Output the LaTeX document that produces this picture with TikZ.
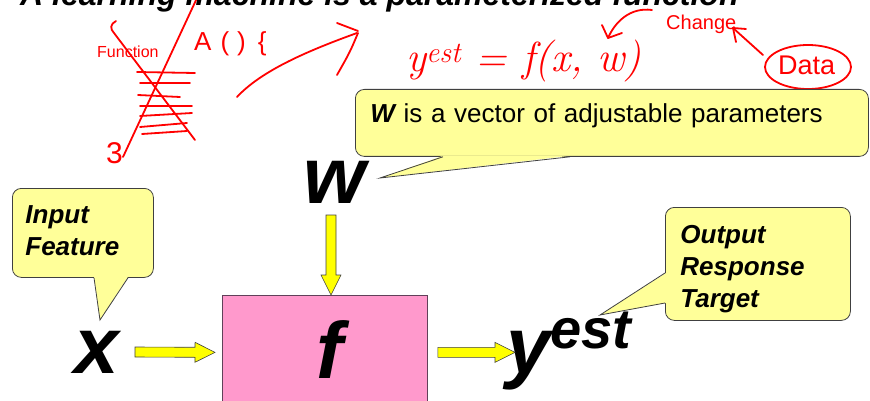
\documentclass[tikz,border=0pt]{standalone}
\usepackage{fontspec}
\newfontfamily\slidefont{Liberation Sans}
\usetikzlibrary{calc}
\definecolor{notefill}{rgb}{1,1,.6}
\definecolor{noteedge}{rgb}{.25,.25,.25}
\definecolor{blockpink}{rgb}{1,.6,.8}
\definecolor{blockedge}{rgb}{.38,.25,.35}
\definecolor{arrowyellow}{rgb}{1,1,0}
\definecolor{ink}{rgb}{1,0,0}

\begin{document}
\begin{tikzpicture}[x=1pt,y=-1pt,
    big/.style={inner sep=0pt,font=\slidefont\bfseries\itshape\fontsize{80}{80}\selectfont},
    note/.style={draw=noteedge,fill=notefill,line width=.8pt,rounded corners=9pt,anchor=north west,align=left,inner xsep=13pt},
    notetext/.style={font=\slidefont\bfseries\itshape\fontsize{26}{32}\selectfont},
    hand/.style={text=ink,inner sep=0pt,anchor=base west},
    inkline/.style={draw=ink,line width=1.8pt,line cap=round,line join=round},
    fatarrow/.style={draw=black!75,fill=arrowyellow,line width=.6pt,
      to path={($(\tikztostart)!5pt!90:(\tikztotarget)$)
        -- ($(\tikztotarget)!20pt!(\tikztostart)!5pt!-90:(\tikztostart)$)
        -- ($(\tikztotarget)!20pt!(\tikztostart)!10pt!-90:(\tikztostart)$)
        -- (\tikztotarget)
        -- ($(\tikztotarget)!20pt!(\tikztostart)!10pt!90:(\tikztostart)$)
        -- ($(\tikztotarget)!20pt!(\tikztostart)!5pt!90:(\tikztostart)$)
        -- ($(\tikztostart)!5pt!-90:(\tikztotarget)$) -- cycle}}]
\useasboundingbox (0,0) rectangle (870,401);
\clip (0,0) rectangle (870,401);

\node[inner sep=0pt,anchor=base west,font=\slidefont\bfseries\itshape\fontsize{32}{36}\selectfont] (title) at (20,6) {A learning machine is a parameterized function};

% handwriting
\draw[inkline] (197,-2) -- (123,157);
\draw[inkline] (116,21) .. controls (110,24) and (110,29) .. (114,33) -- (195,140);
\foreach \xa/\ya/\xb/\yb in {137/72/195/73,140/83/190/83,138/95/180/97,140/106/192/106,140/116/192/113,140/127/187/123,142/134/187/131}
  \draw[inkline] (\xa,\ya) -- (\xb,\yb);
\node[hand,font=\slidefont\fontsize{16}{16}\selectfont] (fnword) at (97,58) {Function};
\node[hand,font=\slidefont\fontsize{26}{26}\selectfont] (code) at (194,51) {A\hspace{9pt}(\hspace{8pt})\hspace{12pt}\{};
\node[hand,font=\slidefont\fontsize{30}{30}\selectfont] (close) at (106,164) {3};
\draw[inkline] (237,97) .. controls (262,70) and (310,50) .. (357,33);
\draw[inkline] (337,23) -- (358,31);
\draw[inkline] (358,33) .. controls (350,52) .. (337,75);
\node[hand,font=\itshape\fontsize{42}{42}\selectfont] (eqn) at (406,72) {y\textsuperscript{est} = f(x, w)};
\node[hand,font=\slidefont\fontsize{20}{20}\selectfont] (change) at (666,30) {Change};
\draw[inkline] (652,10) .. controls (630,7) and (615,22) .. (608,38);
\draw[inkline] (602,25) -- (608,38) -- (622,33);
\draw[inkline] (808,67) ellipse [x radius=43,y radius=22];
\node[hand,font=\slidefont\fontsize{27}{27}\selectfont] (data) at (778,75) {Data};
\draw[inkline] (763,55) -- (733,28);
\draw[inkline] (746,29) -- (733,28) -- (736,42);

% machine
\node[draw=blockedge,fill=blockpink,line width=.8pt,anchor=north west,minimum width=205pt,minimum height=114pt] (fbox) at (222,295) {};
\node[big,anchor=base] (flabel) at (330,378) {f};
\node[big,anchor=base] (wpar) at (335,203) {w};
\node[big,anchor=base west] (xin) at (74,373) {x};
\node[big,anchor=base west] (yout) at (506,373) {y\raisebox{25pt}{\fontsize{56}{56}\selectfont est}};

\coordinate (wtail) at (331,215);
\coordinate (xtail) at (135,352);
\draw[fatarrow] (wtail) to (fbox.north -| wtail);
\draw[fatarrow] (xtail) to ([xshift=-7pt]fbox.west);
\draw[fatarrow] ([xshift=10pt]fbox.east) to ($(yout.west |- fbox.east)+(9,0)$);

% callouts
\node[note,text width=483pt,inner xsep=15pt,inner ysep=14pt,text height=19pt,text depth=20pt,font=\slidefont\fontsize{26}{32}\selectfont] (wnote) at (355,89) {{\bfseries\itshape W} is a vector of adjustable parameters};
\coordinate (wtip) at (380,178);
\fill[notefill] (wtip) -- ($(wnote.south west)+(88,-1)$) -- ($(wnote.south west)+(215,-1)$) -- cycle;
\draw[noteedge,line width=.8pt] ($(wnote.south west)+(88,0)$) -- (wtip) -- ($(wnote.south west)+(215,0)$);

\node[note,notetext,text width=115pt,inner ysep=16pt,text height=19pt,text depth=38pt] (innote) at (12,188) {Input\\Feature};
\coordinate (intip) at (100,320);
\fill[notefill] (intip) -- ($(innote.south west)+(82,-1)$) -- ($(innote.south west)+(116,-1)$) -- cycle;
\draw[noteedge,line width=.8pt] ($(innote.south west)+(82,0)$) -- (intip) -- ($(innote.south west)+(116,0)$);

\node[note,notetext,text width=155pt,inner xsep=15pt,inner ysep=17pt,text height=19pt,text depth=60pt] (outnote) at (665,207) {Output\\Response\\Target};
\coordinate (outtip) at (600,315);
\fill[notefill] (outtip) -- ($(outnote.north west)+(1,66)$) -- ($(outnote.north west)+(1,96)$) -- cycle;
\draw[noteedge,line width=.8pt] ($(outnote.north west)+(0,66)$) -- (outtip) -- ($(outnote.north west)+(0,96)$);
\end{tikzpicture}
\end{document}
